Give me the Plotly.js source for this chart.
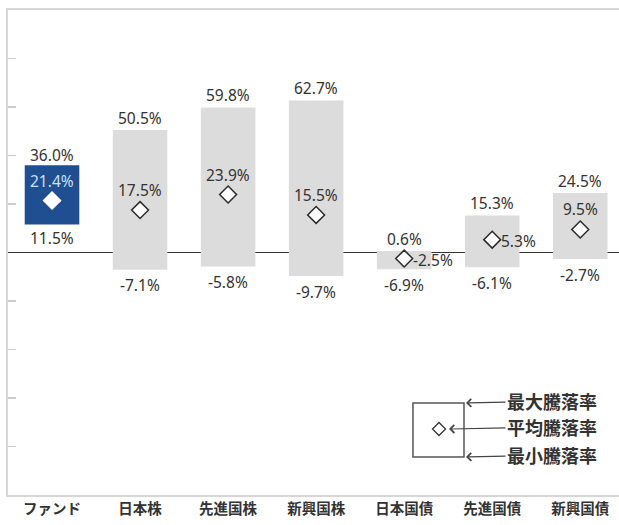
<!DOCTYPE html>
<html>
<head>
<meta charset="utf-8">
<script src="https://cdn.plot.ly/plotly-3.0.1.min.js"></script>
<style>
html,body{margin:0;padding:0;background:#fff;}
#chart{width:619px;height:525px;}
</style>
</head>
<body>
<div id="chart"></div>
<script>
// ---- data ----
const categories = ['ファンド', '日本株', '先進国株', '新興国株', '日本国債', '先進国債', '新興国債'];
const maxVals = [36.0, 50.5, 59.8, 62.7, 0.6, 15.3, 24.5];
const avgVals = [21.4, 17.5, 23.9, 15.5, -2.5, 5.3, 9.5];
const minVals = [11.5, -7.1, -5.8, -9.7, -6.9, -6.1, -2.7];
const legendLabels = ['最大騰落率', '平均騰落率', '最小騰落率'];
const yTicks = [-80, -60, -40, -20, 20, 40, 60, 80];

// ---- style ----
const meanLabelSide = ['top', 'top', 'top', 'top', 'right', 'right', 'top'];
const fundColor = '#1f4e91';
const otherColor = '#dcdcdc';
const numFont = 'Noto Sans, "Noto Sans CJK JP", sans-serif';
const jpFont = '"Noto Sans CJK JP", sans-serif';
const fmt = v => v.toFixed(1) + '%';

const barColors = categories.map((c, i) => i === 0 ? fundColor : otherColor);

const bars = {
  type: 'bar',
  x: categories,
  base: minVals,
  y: maxVals.map((m, i) => m - minVals[i]),
  width: 0.62,
  marker: {color: barColors, line: {width: 0}},
  hoverinfo: 'skip'
};

const means = {
  type: 'scatter',
  mode: 'markers',
  x: categories,
  y: avgVals,
  marker: {
    symbol: 'diamond',
    size: 13,
    color: '#ffffff',
    line: {color: categories.map((c, i) => i === 0 ? '#ffffff' : '#2a2a2a'), width: 1.5}
  },
  hoverinfo: 'skip'
};

const annotations = [];
categories.forEach((c, i) => {
  annotations.push({
    x: c, y: maxVals[i], xref: 'x', yref: 'y', text: fmt(maxVals[i]), showarrow: false,
    yanchor: 'middle', yshift: i === 0 ? 10 : 12.5,
    font: {family: numFont, size: 15.5, color: '#333'}
  });
  annotations.push({
    x: c, y: minVals[i], xref: 'x', yref: 'y', text: fmt(minVals[i]), showarrow: false,
    yanchor: 'middle', yshift: i === 0 ? -13 : -15.5,
    font: {family: numFont, size: 15.5, color: '#333'}
  });
  const right = meanLabelSide[i] === 'right';
  annotations.push({
    x: c, y: avgVals[i], xref: 'x', yref: 'y', text: fmt(avgVals[i]), showarrow: false,
    xanchor: right ? 'left' : 'center', yanchor: 'middle',
    xshift: right ? 7 : 0, yshift: right ? -1 : 20,
    font: {family: numFont, size: 15.5, color: i === 0 ? '#cfe0f6' : '#333'}
  });
});

// legend explanation (arrows + text)
const legTips = [
  {x: 0.7496, y: 0.1897, ax: 86},
  {x: 0.7218, y: 0.136, ax: 103},
  {x: 0.7496, y: 0.0784, ax: 86}
];
legendLabels.forEach((t, i) => {
  annotations.push({
    xref: 'paper', yref: 'paper', x: legTips[i].x, y: legTips[i].y,
    text: t, showarrow: true, ax: legTips[i].ax, ay: -2,
    arrowhead: 4, arrowsize: 1.3, arrowwidth: 1.2, arrowcolor: '#444',
    font: {family: jpFont, size: 18, color: '#333', weight: 'bold'}
  });
});

const shapes = [
  {type: 'rect', xref: 'paper', yref: 'paper', x0: 0.6628, x1: 0.7463, y0: 0.0784, y1: 0.1897,
   line: {color: '#555', width: 1.5}, fillcolor: 'rgba(0,0,0,0)'},
  {type: 'path', xref: 'paper', yref: 'paper', xsizemode: 'pixel', ysizemode: 'pixel',
   xanchor: 0.7054, yanchor: 0.136, path: 'M0,6.5 L6.5,0 L0,-6.5 L-6.5,0 Z',
   line: {color: '#333', width: 1.3}, fillcolor: '#fff'}
];

const layout = {
  width: 619, height: 525,
  margin: {l: 8, r: 0, t: 10, b: 30},
  paper_bgcolor: '#fff', plot_bgcolor: '#fff',
  showlegend: false,
  xaxis: {
    type: 'category', range: [-0.5, 6.44],
    showline: true, mirror: true, linecolor: '#d6d6d6', linewidth: 2,
    showgrid: false, ticks: '', fixedrange: true,
    tickfont: {family: jpFont, size: 14.5, color: '#333', weight: 'bold'}
  },
  yaxis: {
    range: [-100, 100], showline: true, mirror: false, linecolor: '#d6d6d6', linewidth: 2,
    showgrid: false, tickvals: yTicks, ticks: 'inside', ticklen: 8, tickcolor: '#cccccc', tickwidth: 1.2,
    showticklabels: false,
    zeroline: true, zerolinecolor: '#333', zerolinewidth: 1.8, fixedrange: true
  },
  annotations: annotations,
  shapes: shapes
};

Plotly.newPlot('chart', [bars, means], layout, {displayModeBar: false, staticPlot: true});
</script>
</body>
</html>
